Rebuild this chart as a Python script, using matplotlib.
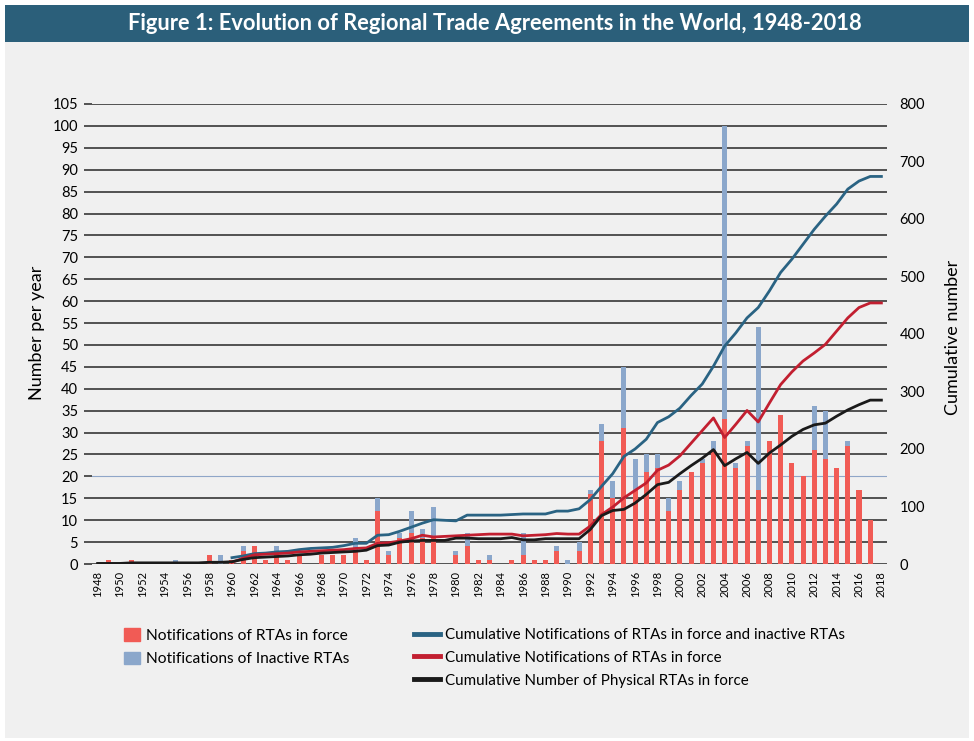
import numpy as np
import matplotlib.pyplot as plt
from matplotlib.patches import Rectangle, Patch
from matplotlib.lines import Line2D

plt.rcParams['font.family'] = ['Lato', 'DejaVu Sans']

years = list(range(1948, 2019))

# notifications per year (left axis)
in_force = [0, 1, 0, 1, 0, 0, 0, 0, 0, 0,
            2, 0, 1, 3, 4, 1, 3, 1, 2, 0,
            2, 2, 2, 3, 1, 12, 2, 6, 7, 6,
            6, 0, 2, 4, 1, 1, 0, 1, 2, 1,
            1, 3, 0, 3, 16, 28, 15, 31, 17, 21,
            22, 12, 17, 21, 23, 26, 33, 22, 27, 17,
            28, 34, 23, 20, 26, 24, 22, 27, 17, 10,
            0]
inactive = [0, 0, 0, 0, 0, 0, 0, 1, 0, 0,
            0, 2, 0, 1, 0, 0, 1, 0, 0, 0,
            0, 0, 0, 3, 0, 3, 1, 1, 5, 2,
            7, 0, 1, 3, 0, 1, 0, 0, 5, 0,
            0, 1, 1, 2, 1, 4, 4, 14, 7, 4,
            3, 3, 2, 0, 1, 2, 67, 1, 1, 37,
            0, 0, 0, 0, 10, 11, 0, 1, 0, 0,
            0]

# cumulative series (right axis), 1960 onwards for the first two
nan = np.nan
cum_all = [nan] * 12 + [11, 14, 18, 19, 21, 22, 25, 27, 28, 29,
                        32, 36, 36, 50, 51, 57, 64, 71, 77, 76,
                        75, 85, 85, 85, 85, 86, 87, 87, 87, 92,
                        92, 96, 112, 135, 157, 187, 200, 217, 246, 256,
                        271, 293, 313, 344, 379, 402, 428, 446, 475, 507,
                        530, 556, 582, 605, 626, 652, 666, 674, 674]
cum_force = [nan] * 12 + [3, 10, 16, 17, 18, 19, 21, 22, 23, 24,
                          25, 27, 28, 36, 37, 40, 44, 50, 47, 48,
                          49, 50, 51, 52, 52, 52, 49, 50, 51, 53,
                          52, 52, 66, 86, 99, 115, 128, 141, 163, 172,
                          188, 210, 232, 254, 220, 243, 267, 247, 280, 312,
                          334, 353, 367, 382, 405, 428, 446, 454, 454]
cum_physical = [1, 1, 1, 2, 2, 2, 2, 2, 2, 2, 3, 3,
                4, 8, 11, 12, 13, 14, 16, 17, 19, 20,
                21, 22, 24, 32, 33, 38, 40, 41, 41, 41,
                45, 45, 44, 44, 44, 46, 42, 42, 44, 44,
                44, 44, 60, 84, 93, 95, 106, 121, 138, 142,
                157, 171, 184, 199, 171, 183, 194, 175, 193, 207,
                222, 234, 242, 245, 257, 268, 277, 285, 285]

c_red = '#f15b55'
c_lblue = '#8ba7cb'
c_line_blue = '#2a6383'
c_line_red = '#c21f30'
c_line_black = '#1a1a1a'

W, H = 974, 741
fig = plt.figure(figsize=(W / 100, H / 100), dpi=100)
fig.patch.set_facecolor('white')

# grey panel + title banner
fig.add_artist(Rectangle((5 / W, 3 / H), 964 / W, 733 / H, transform=fig.transFigure,
                         facecolor='#f0f0f0', edgecolor='none', zorder=-10))
fig.add_artist(Rectangle((5 / W, 1 - 42 / H), 964 / W, 37 / H, transform=fig.transFigure,
                         facecolor='#2b5f7a', edgecolor='none', zorder=-9))
fig.text(495 / W, 1 - 23 / H, 'Figure 1: Evolution of Regional Trade Agreements in the World, 1948-2018',
         color='white', fontweight='bold', fontsize=15.75, ha='center', va='center')

ax = fig.add_axes([92 / W, 1 - 564 / H, 795 / W, 460 / H])
ax.set_facecolor('none')
x = np.arange(len(years))

ax.bar(x, in_force, width=0.45, color=c_red, zorder=2)
ax.bar(x, inactive, width=0.45, bottom=in_force, color=c_lblue, zorder=2)

ax.set_xlim(-0.5, len(years) - 0.5)
ax.set_ylim(0, 105)
ax.set_yticks(range(0, 106, 5))
ax.grid(axis='y', color='#262626', lw=1.1)
ax.set_axisbelow(True)
ax.get_ygridlines()[4].set_color('#8fa6c8')
ax.get_ygridlines()[4].set_linewidth(0.8)
for s in ax.spines.values():
    s.set_visible(False)
ax.tick_params(axis='y', length=6, width=1.1, color='#262626', labelsize=10.5, pad=4)
ax.set_xticks(x[::2])
ax.set_xticklabels([str(y) for y in years[::2]], rotation=90, fontsize=8)
ax.tick_params(axis='x', length=0, pad=5)

ax2 = ax.twinx()
ax2.plot(x, cum_all, color=c_line_blue, lw=2)
ax2.plot(x, cum_force, color=c_line_red, lw=2)
ax2.plot(x, cum_physical, color=c_line_black, lw=2)
ax2.set_ylim(0, 800)
ax2.set_yticks(range(0, 801, 100))
ax2.tick_params(axis='y', length=0, labelsize=10.5, pad=9)
for s in ax2.spines.values():
    s.set_visible(False)

fig.text(37 / W, 1 - 333 / H, 'Number per year', rotation=90, fontsize=13, ha='center', va='center')
fig.text(953 / W, 1 - 337 / H, 'Cumulative number', rotation=90, fontsize=13, ha='center', va='center')

# legends
h1 = [Patch(color=c_red), Patch(color=c_lblue)]
fig.legend(h1, ['Notifications of RTAs in force', 'Notifications of Inactive RTAs'],
           loc='upper left', bbox_to_anchor=(124 / W, 1 - 628 / H), frameon=False,
           fontsize=11.2, handlelength=1.0, handleheight=0.9, handletextpad=0.4,
           labelspacing=0.56, borderpad=0, borderaxespad=0)
h2 = [Line2D([], [], color=c_line_blue, lw=3.5),
      Line2D([], [], color=c_line_red, lw=3.5),
      Line2D([], [], color=c_line_black, lw=3.5)]
fig.legend(h2, ['Cumulative Notifications of RTAs in force and inactive RTAs',
                'Cumulative Notifications of RTAs in force',
                'Cumulative Number of Physical RTAs in force'],
           loc='upper left', bbox_to_anchor=(414 / W, 1 - 628 / H), frameon=False,
           fontsize=10.9, handlelength=1.7, handletextpad=0.35,
           labelspacing=0.58, borderpad=0, borderaxespad=0)

fig.savefig('out.png', dpi=100)
